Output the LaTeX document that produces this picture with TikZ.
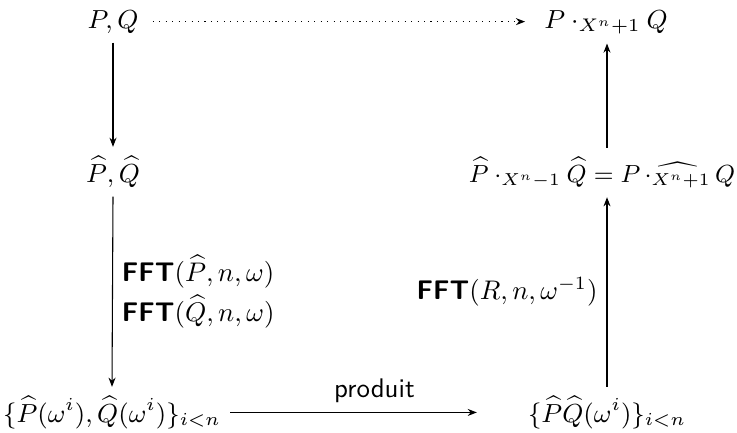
\RequirePackage{fix-cm}
\documentclass[tikz,border=0pt]{standalone}
\usetikzlibrary{arrows.meta}
\begin{document}
\begin{tikzpicture}[x=0.3717pt,y=-0.3717pt,
  obj/.style={anchor=base, inner sep=3.33pt, font=\fontsize{9.7pt}{12pt}\selectfont},
  arr/.style={-{Stealth[length=3.4pt,width=2.6pt]}, line width=0.4pt},
  lbl/.style={font=\sffamily, inner sep=3.33pt}]
\useasboundingbox (0,0) rectangle (737,432);
\node[obj] (pq) at (113,28) {$P, Q$};
\node[obj] (pr) at (606,28) {$P \cdot_{X^n+1} Q$};
\node[obj] (ph) at (113,182) {$\widehat{P}, \widehat{Q}$};
\node[obj, font=\fontsize{9.2pt}{12pt}\selectfont] (rh) at (602,182) {$\widehat{P} \cdot_{X^n-1} \widehat{Q} = P\,\widehat{\cdot_{X^n+1}}\,Q$};
\node[obj] (bl) at (112,422) {$\{\widehat{P}(\omega^i), \widehat{Q}(\omega^i)\}_{i<n}$};
\node[obj] (br) at (607,422) {$\{\widehat{P}\widehat{Q}(\omega^i)\}_{i<n}$};
\draw[arr, dotted, shorten <=1.8pt, shorten >=3.6pt] (pq.east) -- (pq.east -| pr.west);
\draw[arr] (pq.south) -- (ph.north);
\draw[arr] (ph.south) -- node[lbl, midway, anchor=west, align=left]
  {\textbf{FFT}$(\widehat{P},n,\omega)$\\[1.6pt]\textbf{FFT}$(\widehat{Q},n,\omega)$} (bl.north);
\draw[arr, shorten >=15.5pt] (bl.east) -- node[lbl, midway, anchor=south] {produit} (bl.east -| br.west);
\draw[arr] (br.north) -- node[lbl, midway, anchor=east] {\textbf{FFT}$(R,n,\omega^{-1})$} (br.north |- rh.south);
\draw[arr] (br.north |- rh.north) -- (br.north |- pr.south);
\end{tikzpicture}
\end{document}
